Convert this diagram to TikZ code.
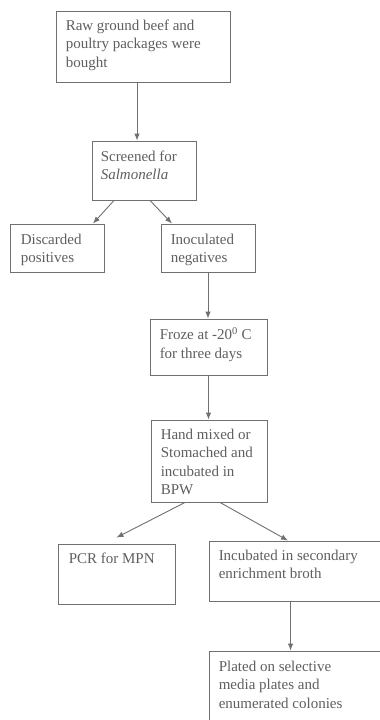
\documentclass[tikz,border=0pt]{standalone}
\usepackage{fontspec}
\setmainfont{Liberation Serif}
\usetikzlibrary{arrows.meta}
\definecolor{ink}{RGB}{95,95,95}
\definecolor{edge}{RGB}{112,112,112}
\begin{document}
\begin{tikzpicture}[x=1pt,y=-1pt,
  box/.style={draw=edge,line width=0.9pt,rectangle,inner sep=0pt},
  lbl/.style={anchor=north west,inner sep=0pt,text=ink,align=left,font=\fontsize{15}{18.5}\selectfont},
  arr/.style={draw=edge,line width=0.9pt,-{Latex[length=7pt,width=5.5pt]}}]
\useasboundingbox (0,0) rectangle (380,720);
\clip (0,0) rectangle (380,720);
\fill[white] (0,0) rectangle (380,720);
% boxes
\node[box,minimum width=174pt,minimum height=71pt] (b1) at (143,46.5) {};
\node[box,minimum width=104pt,minimum height=59pt] (b2) at (144,170.5) {};
\node[box,minimum width=94pt,minimum height=48pt] (b3) at (57,248) {};
\node[box,minimum width=94pt,minimum height=48pt] (b4) at (208,248) {};
\node[box,minimum width=117pt,minimum height=56pt] (b5) at (208.5,347) {};
\node[box,minimum width=116pt,minimum height=82pt] (b6) at (209,461) {};
\node[box,minimum width=117pt,minimum height=60pt] (b7) at (116.5,574) {};
\node[box,minimum width=200pt,minimum height=60pt] (b8) at (309,571) {};
\node[box,minimum width=200pt,minimum height=100pt] (b9) at (309,701) {};
% texts
\node[lbl] (t1) at ([xshift=10pt,yshift=-9pt]b1.north west) {Raw ground beef and\\poultry packages were\\bought};
\node[lbl] (t2) at ([xshift=9pt,yshift=-10pt]b2.north west) {Screened for\\\textit{Salmonella}};
\node[lbl] (t3) at ([xshift=11pt,yshift=-10pt]b3.north west) {Discarded\\positives};
\node[lbl] (t4) at ([xshift=10pt,yshift=-10pt]b4.north west) {Inoculated\\negatives};
\node[lbl] (t5) at ([xshift=10pt,yshift=-9pt]b5.north west) {Froze at -20\textsuperscript{0} C\\for three days};
\node[lbl] (t6) at ([xshift=10pt,yshift=-9pt]b6.north west) {Hand mixed or\\Stomached and\\incubated in\\BPW};
\node[lbl] (t7) at ([xshift=11pt,yshift=-9pt]b7.north west) {PCR for MPN};
\node[lbl] (t8) at ([xshift=10pt,yshift=-9pt]b8.north west) {Incubated in secondary\\enrichment broth};
\node[lbl] (t9) at ([xshift=10pt,yshift=-10pt]b9.north west) {Plated on selective\\media plates and\\enumerated colonies};
% connectors
\draw[arr] ([xshift=-6pt]b1.south) -- ([xshift=-7pt]b2.north);
\draw[arr] ([xshift=-30pt]b2.south) -- ([xshift=36pt]b3.north);
\draw[arr] ([xshift=6pt]b2.south) -- ([xshift=-36pt]b4.north);
\draw[arr] (b4.south) -- (b4.south |- b5.north);
\draw[arr] (b5.south) -- (b5.south |- b6.north);
\draw[arr] ([xshift=-24pt]b6.south) -- ([yshift=6pt]b7.north);
\draw[arr] ([xshift=11pt]b6.south) -- ([xshift=-21pt]b8.north);
\draw[arr] ([xshift=82pt]b8.south west) -- ([xshift=82pt]b9.north west);
\end{tikzpicture}
\end{document}
